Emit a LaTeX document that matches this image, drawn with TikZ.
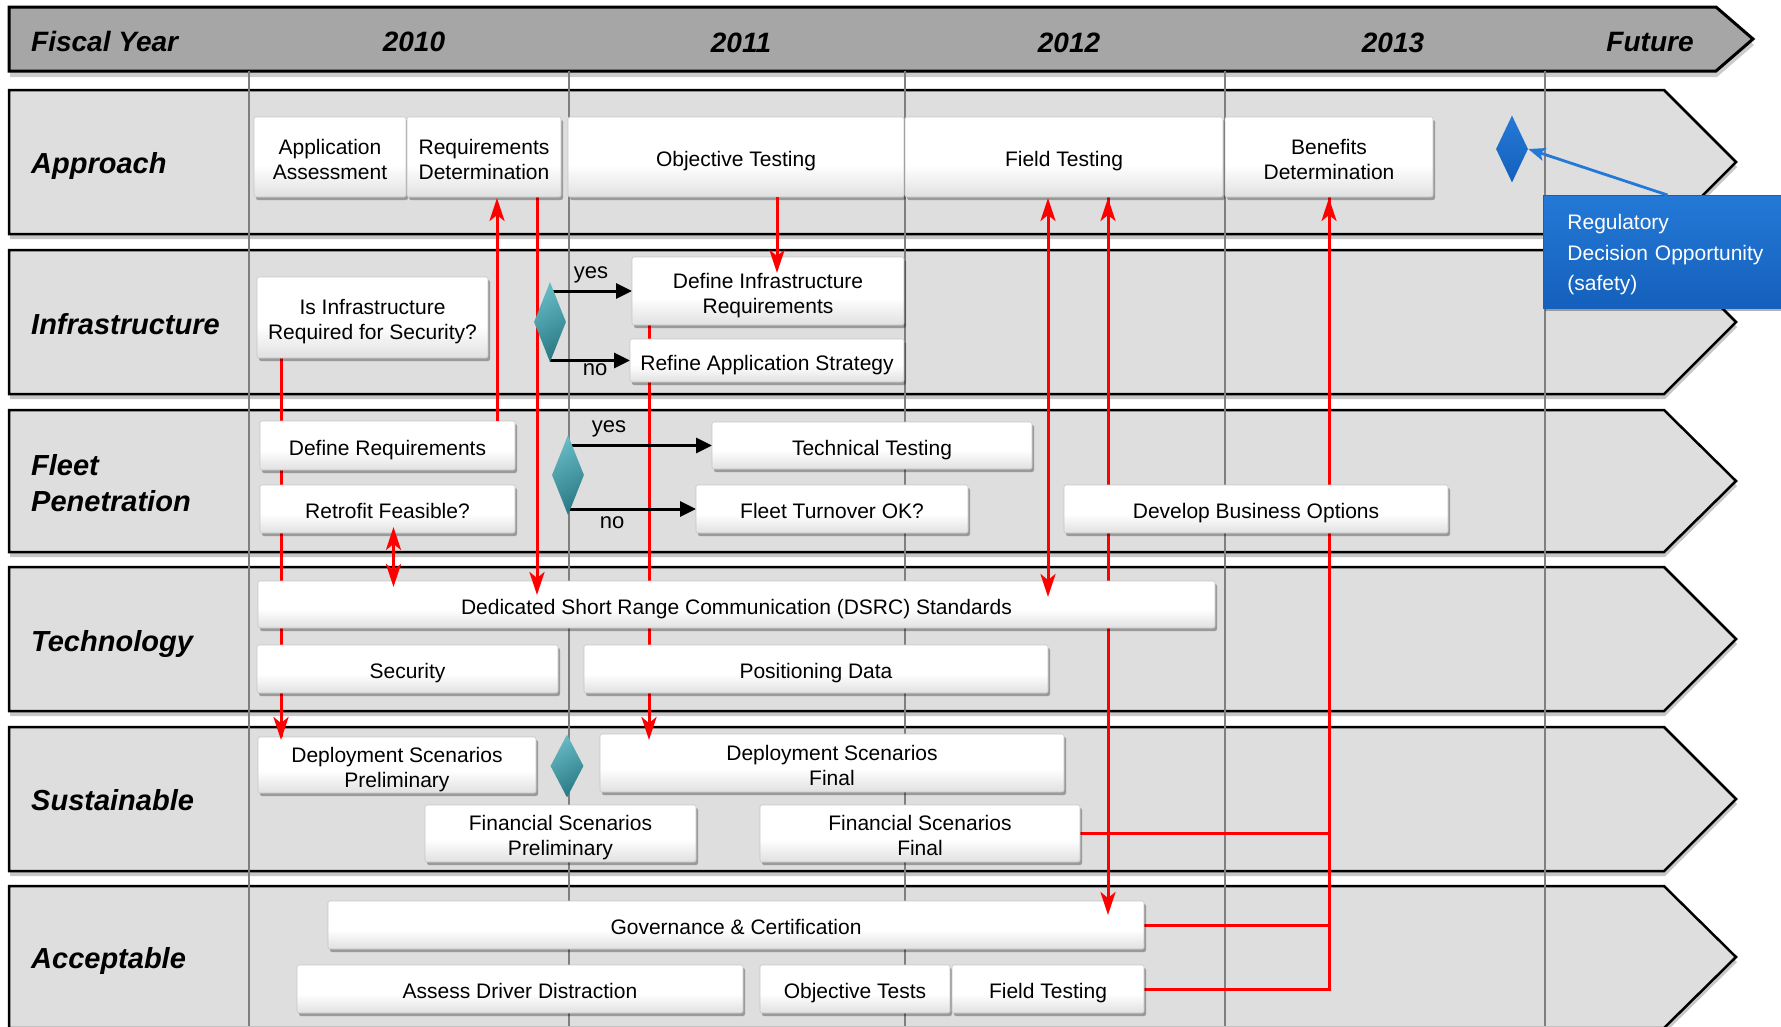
\documentclass[tikz,border=0pt]{standalone}
\usepackage{fontspec}
\setmainfont{Liberation Sans}
\usetikzlibrary{arrows.meta,shapes.geometric,shadows,calc}
\pgfdeclarelayer{bg}
\pgfdeclarelayer{mid}
\pgfdeclarelayer{fg}
\pgfsetlayers{bg,mid,main,fg}
\definecolor{lanefill}{HTML}{DEDEDE}
\definecolor{headfill}{HTML}{A6A6A6}
\definecolor{gridc}{HTML}{7F7F7F}
\definecolor{redc}{HTML}{FF0000}
\definecolor{blueA}{HTML}{2479D6}
\definecolor{blueB}{HTML}{1460BC}
\definecolor{tealA}{HTML}{66BAC4}
\definecolor{tealB}{HTML}{2A7A85}
\pgfdeclareverticalshading{boxshade}{100bp}{color(0bp)=(black!34); color(15bp)=(black!18); color(45bp)=(white); color(100bp)=(white)}
\tikzset{
  bx/.style={shape=rectangle, rounded corners=2pt, draw=black!22, line width=0.6pt,
    shade, shading=boxshade,
    drop shadow={shadow xshift=2pt, shadow yshift=-3pt, opacity=0.3, fill=black},
    inner sep=0pt, outer sep=0pt, align=center, font=\fontsize{21}{25}\selectfont, text=black},
  lanelab/.style={anchor=base west, font=\fontsize{29}{36}\selectfont\bfseries\itshape, inner sep=0pt},
  yearlab/.style={anchor=base, font=\fontsize{28}{34}\selectfont\bfseries\itshape, inner sep=0pt},
  yn/.style={anchor=base, font=\fontsize{22}{26}\selectfont, inner sep=0pt},
  tealdia/.style={shape=diamond, minimum width=32pt, minimum height=80pt, inner sep=0pt,
    top color=tealA, bottom color=tealB, shading angle=30, draw=none},
  bluedia/.style={shape=diamond, minimum width=32pt, minimum height=67pt, inner sep=0pt,
    top color=blueA, bottom color=blueB, draw=none},
  regbox/.style={anchor=north west, text width=200pt, inner xsep=24pt, inner ysep=0pt,
    minimum height=113pt, align=left, text=white, font=\fontsize{21}{30.5}\selectfont,
    top color=blueA, bottom color=blueB, draw=blueB, line width=0.8pt,
    drop shadow={shadow xshift=2pt, shadow yshift=-3pt, opacity=0.3, fill=black}},
  redl/.style={draw=redc, line width=3pt},
  redarr/.style={redl, -{Stealth[length=23pt,width=15pt,inset=6pt]}},
  redarrb/.style={redl, {Stealth[length=23pt,width=15pt,inset=6pt]}-{Stealth[length=23pt,width=15pt,inset=6pt]}},
  blkarr/.style={draw=black, line width=3pt, -{Triangle[length=16pt,width=15pt]}},
  bluearr/.style={draw=blueA, line width=2.8pt, -{Stealth[length=17pt,width=13pt,inset=4pt]}},
  lanestyle/.style={fill=lanefill, draw=black, line width=2.5pt,
    drop shadow={shadow xshift=1pt, shadow yshift=-5pt, opacity=0.22, fill=black}},
  gridline/.style={draw=gridc, line width=1.4pt}
}
\newcommand\mybox[6]{\node[bx, minimum width={#4-#2}, minimum height={#5-#3}] (#1) at ({(#2+#4)/2},{(#3+#5)/2}) {\rule{0pt}{24pt}#6\rule[-5pt]{0pt}{5pt}};}
\newcommand\mylane[2]{\path[lanestyle] (9,#1) -- (1664,#1) -- (1736,{(#1+#2)/2}) -- (1664,#2) -- (9,#2) -- cycle;}
\begin{document}
\begin{tikzpicture}[x=1pt,y=-1pt]
\useasboundingbox (0,0) rectangle (1781,1026);
% ---------- boxes ----------
\mybox{appass}{254}{117}{406}{197}{Application\\Assessment}
\mybox{reqdet}{407}{117}{561}{197}{Requirements\\Determination}
\mybox{objtest}{568}{117}{904}{197}{Objective Testing}
\mybox{fieldtest}{905}{117}{1223}{197}{Field Testing}
\mybox{bendet}{1225}{117}{1433}{197}{Benefits\\Determination}
\mybox{isinfra}{257}{277}{488}{358}{Is Infrastructure\\Required for Security?}
\mybox{definfra}{632}{257}{904}{325}{Define Infrastructure\\Requirements}
\mybox{refine}{630}{339}{904}{382}{Refine Application Strategy}
\mybox{defreq}{260}{421}{515}{470}{Define Requirements}
\mybox{retrofit}{260}{485}{515}{533}{Retrofit Feasible?}
\mybox{techtest}{712}{422}{1032}{469}{Technical Testing}
\mybox{fleetturn}{696}{485}{968}{533}{Fleet Turnover OK?}
\mybox{devbus}{1064}{485}{1448}{533}{Develop Business Options}
\mybox{dsrc}{258}{581}{1215}{628}{Dedicated Short Range Communication (DSRC) Standards}
\mybox{security}{257}{645}{558}{693}{Security}
\mybox{posdata}{584}{645}{1048}{693}{Positioning Data}
\mybox{depprelim}{258}{737}{536}{793}{Deployment Scenarios\\Preliminary}
\mybox{depfinal}{600}{734}{1064}{792}{Deployment Scenarios\\Final}
\mybox{finprelim}{425}{805}{696}{862}{Financial Scenarios\\Preliminary}
\mybox{finfinal}{760}{805}{1080}{862}{Financial Scenarios\\Final}
\mybox{gov}{328}{901}{1144}{949}{Governance \& Certification}
\mybox{assessdd}{297}{965}{743}{1013}{Assess Driver Distraction}
\mybox{objtests}{760}{965}{950}{1013}{Objective Tests}
\mybox{fieldtestb}{952}{965}{1144}{1013}{Field Testing}
% ---------- decision diamonds ----------
\node[tealdia] (d1) at (550,322) {};
\node[tealdia] (d2) at (568,475) {};
\node[tealdia, minimum width=33pt, minimum height=63pt] (d3) at (567,766) {};
\node[bluedia] (bdia) at (1512,149) {};
\node[regbox] (reg) at (1543,195) {\rule{0pt}{21pt}Regulatory\\Decision Opportunity\\(safety)};
% ---------- header labels ----------
\node[yearlab, anchor=base west] (fy) at (31,51) {Fiscal Year};
\node[yearlab] (y10) at (414,51) {2010};
\node[yearlab] (y11) at (741,52) {2011};
\node[yearlab] (y12) at (1069,52) {2012};
\node[yearlab] (y13) at (1393,52) {2013};
\node[yearlab] (yfu) at (1650,51) {Future};
% ---------- lane labels ----------
\node[lanelab] (lapp) at (31,173) {Approach};
\node[lanelab] (linf) at (31,334) {Infrastructure};
\node[lanelab] (lfle) at (31,475) {Fleet};
\node[lanelab] (lpen) at (31,511) {Penetration};
\node[lanelab] (ltec) at (31,651) {Technology};
\node[lanelab] (lsus) at (31,810) {Sustainable};
\node[lanelab] (lacc) at (31,968) {Acceptable};
% ---------- yes / no ----------
\node[yn] (yes1) at (591,278) {yes};
\node[yn] (no1) at (595,375) {no};
\node[yn] (yes2) at (609,432) {yes};
\node[yn] (no2) at (612,528) {no};
% ---------- connector anchor points ----------
\coordinate (l281) at ([xshift=24pt]isinfra.south west);
\coordinate (l393) at ([xshift=6pt]retrofit.south);
\coordinate (l497) at ([xshift=13pt]reqdet.south);
\coordinate (l537) at ([xshift=53pt]reqdet.south);
\coordinate (l649) at ([xshift=17pt]definfra.south west);
\coordinate (l777) at ([xshift=41pt]objtest.south);
\coordinate (l1048) at ([xshift=-16pt]fieldtest.south);
\coordinate (l1108) at ([xshift=44pt]fieldtest.south);
% ---------- background ----------
\begin{pgfonlayer}{bg}
  \path[fill=headfill, draw=black, line width=3pt,
    drop shadow={shadow xshift=1pt, shadow yshift=-6pt, opacity=0.2, fill=black}]
    (9,7) -- (1716,7) -- (1753,39) -- (1716,71) -- (9,71) -- cycle;
  \mylane{90}{234}
  \mylane{250}{394}
  \mylane{410}{552}
  \mylane{567}{711}
  \mylane{727}{871}
  \mylane{886}{1028}
  \foreach \gx in {249,569,905,1225,1545} \draw[gridline] (\gx,71) -- (\gx,1026);
  % red lines hidden behind boxes
  \draw[redl] (l281) -- (l281 |- depprelim.north);
  \draw[redl] (l537) -- (l537 |- dsrc.north);
  \draw[redl] (l649) -- (l649 |- depfinal.north);
  \draw[redl] (l1108) -- (l1108 |- gov.north);
  \draw[redl] (fieldtestb.east) -| (bendet.south);
  \draw[redl] (finfinal.east) -- (finfinal.east -| bendet.south);
  \draw[redl] (gov.east) -- (gov.east -| bendet.south);
\end{pgfonlayer}
% ---------- yes / no arrows ----------
\begin{pgfonlayer}{mid}
  \draw[blkarr] (d1.center |- definfra.west) -- (definfra.west);
  \draw[blkarr] (d1.center |- refine.west) -- (refine.west);
  \draw[blkarr] (d2.center |- techtest.west) -- (techtest.west);
  \draw[blkarr] (d2.center |- fleetturn.west) -- (fleetturn.west);
\end{pgfonlayer}
% ---------- foreground arrows ----------
\begin{pgfonlayer}{fg}
  \draw[redarr] ($(l281 |- depprelim.north)+(0,-30)$) -- ($(l281 |- depprelim.north)+(0,3)$);
  \draw[redarr] ($(l537 |- dsrc.north)+(0,-30)$) -- ($(l537 |- dsrc.north)+(0,14)$);
  \draw[redarr] ($(l649 |- depfinal.north)+(0,-30)$) -- ($(l649 |- depfinal.north)+(0,6)$);
  \draw[redarr] ($(l1108)+(0,40)$) -- ($(l1108)+(0,1)$);
  \draw[redarr] ($(l1108 |- gov.north)+(0,-30)$) -- ($(l1108 |- gov.north)+(0,14)$);
  \draw[redarr] ($(bendet.south)+(0,40)$) -- ($(bendet.south)+(0,1)$);
  \draw[redarrb] ($(l393)+(0,-6)$) -- ($(l393 |- dsrc.north)+(0,6)$);
  \draw[redarr] (l497 |- defreq.north) -- ($(l497)+(0,1)$);
  \draw[redarr] (l777) -- ($(l777 |- definfra.north)+(0,16)$);
  \draw[redarrb] ($(l1048)+(0,1)$) -- ($(l1048 |- dsrc.north)+(0,16)$);
  \draw[bluearr] (reg.north) -- (bdia.east);
\end{pgfonlayer}
\end{tikzpicture}
\end{document}
